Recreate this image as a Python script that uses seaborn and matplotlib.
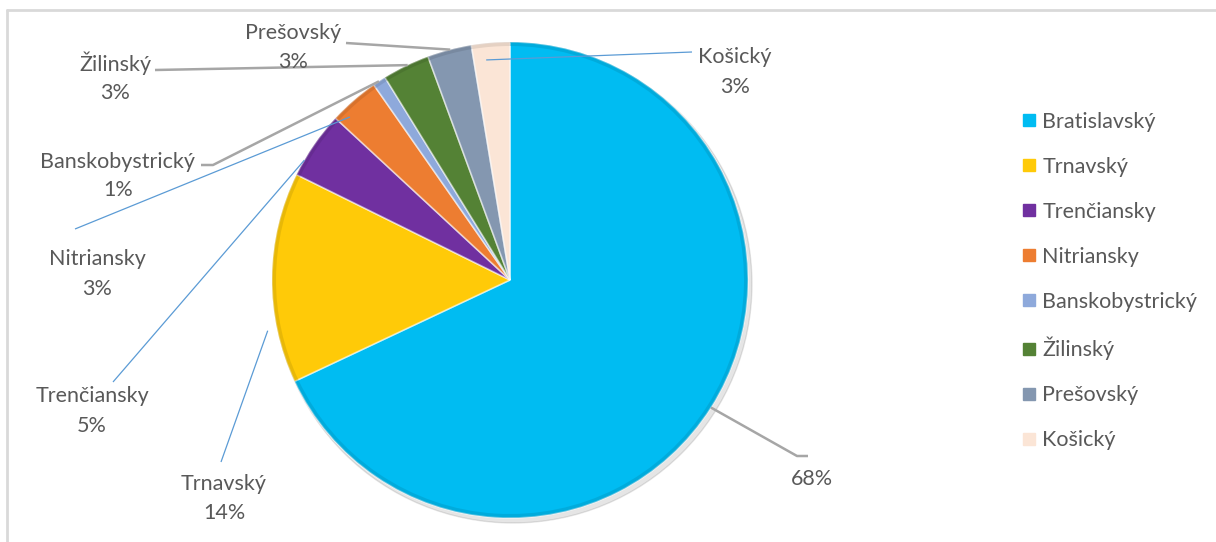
import numpy as np
import matplotlib
matplotlib.use("Agg")
import matplotlib.pyplot as plt
from matplotlib.lines import Line2D
from matplotlib.patches import Wedge, Circle
import seaborn as sns

# Share of each region (percent)
regions = ["Bratislavský", "Trnavský", "Trenčiansky", "Nitriansky",
           "Banskobystrický", "Žilinský", "Prešovský", "Košický"]
shares = [68.0, 14.3, 4.6, 3.4, 0.9, 3.2, 3.0, 2.6]
colors = ["#00BCF2", "#FFCA08", "#7030A0", "#ED7D31",
          "#8EA9DB", "#548235", "#8497B0", "#FBE5D6"]

sns.set_theme(style="white")
plt.rcParams["font.family"] = ["Lato", "DejaVu Sans"]

W, H = 1216, 542
fig = plt.figure(figsize=(W / 100, H / 100), dpi=100)
ax = fig.add_axes([0, 0, 1, 1])


def py(y):
    """pixel row (top origin) -> data y"""
    return H - y


cx, cy, R = 510, py(280), 238
palette = sns.color_palette(colors)

# soft drop shadow under the pie
ax.add_patch(Circle((cx + 3, cy - 4), R + 1, color="#000000", alpha=0.10, zorder=0))

wedges, _ = ax.pie(shares, colors=palette, startangle=90, counterclock=False,
                   center=(cx, cy), radius=R, frame=True,
                   wedgeprops=dict(edgecolor=(1, 1, 1, 0.55), linewidth=1.2))
ax.set_xlim(0, W)
ax.set_ylim(0, H)
ax.set_aspect("equal")
ax.axis("off")

# bevelled outer rim on each wedge
for w, c in zip(wedges, palette):
    w.set_zorder(2)
    dark = tuple(np.array(c) * 0.75)
    ax.add_patch(Wedge((cx, cy), R, w.theta1, w.theta2, width=4,
                       facecolor=dark, edgecolor="none", alpha=0.35, zorder=3))


def point_on(i, frac, rfrac):
    w = wedges[i]
    ang = np.deg2rad(w.theta1 + frac * (w.theta2 - w.theta1))
    return cx + R * rfrac * np.cos(ang), cy + R * rfrac * np.sin(ang)


txt_color = "#595959"
fs = 15.5
gray = "#A6A6A6"
blue = "#5B9BD5"

# data label layout: name position, percent position, leader start, optional elbow,
# anchor along the wedge (fraction of its angle) and radius fraction
layout = {
    0: dict(pos=None, pct=(812, 479), start=(808, 456), elbow=(797, 456), frac=0.5, rf=1.0, col=gray, lw=1.8),
    1: dict(pos=(224, 484), pct=(224, 513), start=(221, 462), elbow=None, frac=0.74, rf=1.04, col=blue, lw=0.9),
    2: dict(pos=(92, 396), pct=(92, 426), start=(113, 382), elbow=None, frac=0.76, rf=1.0, col=blue, lw=0.9),
    3: dict(pos=(97, 259), pct=(97, 289), start=(75, 229), elbow=None, frac=0.78, rf=0.96, col=blue, lw=0.9),
    4: dict(pos=(118, 162), pct=(118, 190), start=(201, 165), elbow=(213, 165), frac=0.53, rf=1.0, col=gray, lw=1.8),
    5: dict(pos=(115, 63), pct=(115, 93), start=(155, 70), elbow=None, frac=0.46, rf=1.0, col=gray, lw=1.8),
    6: dict(pos=(293, 33), pct=(293, 62), start=(346, 43), elbow=None, frac=0.48, rf=1.0, col=gray, lw=1.8),
    7: dict(pos=(735, 57), pct=(735, 87), start=(692, 52), elbow=None, frac=0.66, rf=0.93, col=blue, lw=0.9),
}

for i, (name, val) in enumerate(zip(regions, shares)):
    L = layout[i]
    ex, ey = point_on(i, L["frac"], L["rf"])
    xs = [L["start"][0]]
    ys = [py(L["start"][1])]
    if L["elbow"] is not None:
        xs.append(L["elbow"][0])
        ys.append(py(L["elbow"][1]))
    xs.append(ex)
    ys.append(ey)
    ax.plot(xs, ys, color=L["col"], lw=L["lw"], zorder=4, solid_capstyle="butt")
    if L["pos"] is not None:
        ax.text(L["pos"][0], py(L["pos"][1]), name, ha="center", va="center",
                fontsize=fs, color=txt_color, zorder=5)
    ax.text(L["pct"][0], py(L["pct"][1]), f"{round(val):d}%", ha="center", va="center",
            fontsize=fs, color=txt_color, zorder=5)

# chart frame (top and left edges)
ax.plot([7, W], [py(10), py(10)], color="#D9D9D9", lw=2, zorder=1)
ax.plot([7, 7], [py(10), 0], color="#D9D9D9", lw=2, zorder=1)

handles = [Line2D([0], [0], marker="s", linestyle="none", markersize=9,
                  markerfacecolor=c, markeredgecolor=c) for c in palette]
leg = ax.legend(handles, regions, loc="upper left",
                bbox_to_anchor=(1023 / W, 1 - 112 / H), bbox_transform=fig.transFigure,
                frameon=False, fontsize=fs, labelspacing=1.16,
                handlelength=0.6, handletextpad=0.3, borderpad=0, borderaxespad=0)
for t in leg.get_texts():
    t.set_color(txt_color)

fig.savefig("out.png", dpi=100, facecolor="white")
